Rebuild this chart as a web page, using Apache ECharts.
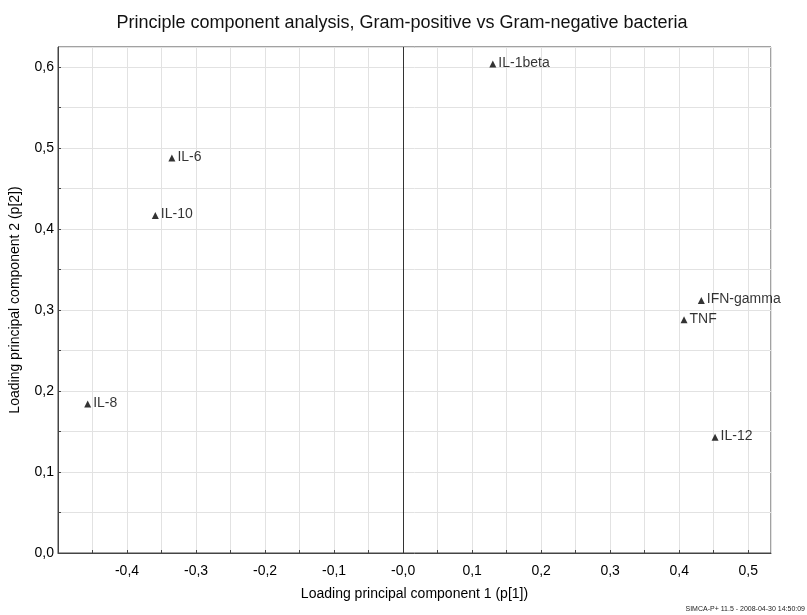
<!DOCTYPE html>
<html>
<head>
<meta charset="utf-8">
<script src="https://cdn.jsdelivr.net/npm/echarts@6/dist/echarts.min.js"></script>
<style>
  html, body { margin: 0; padding: 0; background: #fff; }
  #chart { width: 807px; height: 615px; }
</style>
</head>
<body>
<div id="chart"></div>
<script>
// loadings
const names = ['IL-1beta', 'IL-6', 'IL-10', 'IL-8', 'IFN-gamma', 'TNF', 'IL-12'];
const p1 = [0.130, -0.335, -0.359, -0.457, 0.432, 0.407, 0.452];
const p2 = [0.604, 0.488, 0.417, 0.184, 0.312, 0.288, 0.143];

let points = [];
for (let i = 0; i < names.length; i++) {
  points.push({value: [p1[i], p2[i]], name: names[i]});
}

function commaLabel(v) {
  // only every 0.1 gets a label
  let r = Math.round(v * 10);
  if (Math.abs(v * 10 - r) > 1e-6) return '';
  if (r === 0) return null;
  return (r / 10).toFixed(1).replace('.', ',');
}

let myEcharts = echarts.init(document.getElementById('chart'));
let option = {
  animation: false,
  textStyle: {fontFamily: 'Liberation Sans, Arial, sans-serif'},
  title: {
    text: 'Principle component analysis, Gram-positive vs Gram-negative bacteria',
    left: 397,
    textAlign: 'center',
    top: 9,
    textStyle: {fontSize: 18, fontWeight: 'normal', color: '#111'}
  },
  graphic: [{
    type: 'text',
    right: 2,
    bottom: 2,
    style: {text: 'SIMCA-P+ 11.5 - 2008-04-30 14:50:09', fontSize: 7, fill: '#222'}
  }],
  grid: {left: 57, right: 36, top: 47, bottom: 62, show: true, borderColor: '#444', borderWidth: 1},
  xAxis: {
    type: 'value',
    min: -0.5,
    max: 0.533,
    interval: 0.05,
    name: 'Loading principal component 1 (p[1])',
    nameLocation: 'middle',
    nameGap: 34,
    nameTextStyle: {fontSize: 14, color: '#000'},
    axisLine: {onZero: false, lineStyle: {color: '#444'}},
    axisTick: {show: true, length: 3, inside: true, lineStyle: {color: '#444'}},
    splitLine: {lineStyle: {color: '#e2e2e2'}},
    axisLabel: {
      fontSize: 14, color: '#000', margin: 11,
      showMinLabel: false, showMaxLabel: false,
      formatter: function (v) {
        let s = commaLabel(v);
        return s === null ? '-0,0' : s;
      }
    }
  },
  yAxis: {
    type: 'value',
    min: 0,
    max: 0.625,
    interval: 0.05,
    name: 'Loading principal component 2 (p[2])',
    nameLocation: 'middle',
    nameGap: 36,
    nameTextStyle: {fontSize: 14, color: '#000'},
    axisLine: {show: true, onZero: false, lineStyle: {color: '#444'}},
    axisTick: {show: true, length: 3, inside: true, lineStyle: {color: '#444'}},
    splitLine: {lineStyle: {color: '#e2e2e2'}},
    axisLabel: {
      fontSize: 14, color: '#000', margin: 4,
      showMaxLabel: false,
      formatter: function (v) {
        let s = commaLabel(v);
        return s === null ? '0,0' : s;
      }
    }
  },
  series: [{
    type: 'scatter',
    data: points,
    symbol: 'triangle',
    symbolSize: 7,
    itemStyle: {color: '#000'},
    label: {
      show: true,
      position: 'right',
      distance: 2,
      offset: [0, -1],
      formatter: '{b}',
      fontSize: 14,
      color: '#000'
    },
    markLine: {
      silent: true,
      symbol: 'none',
      label: {show: false},
      lineStyle: {color: '#333', type: 'solid', width: 1},
      data: [{xAxis: 0}]
    }
  }]
};
myEcharts.setOption(option);
</script>
</body>
</html>
